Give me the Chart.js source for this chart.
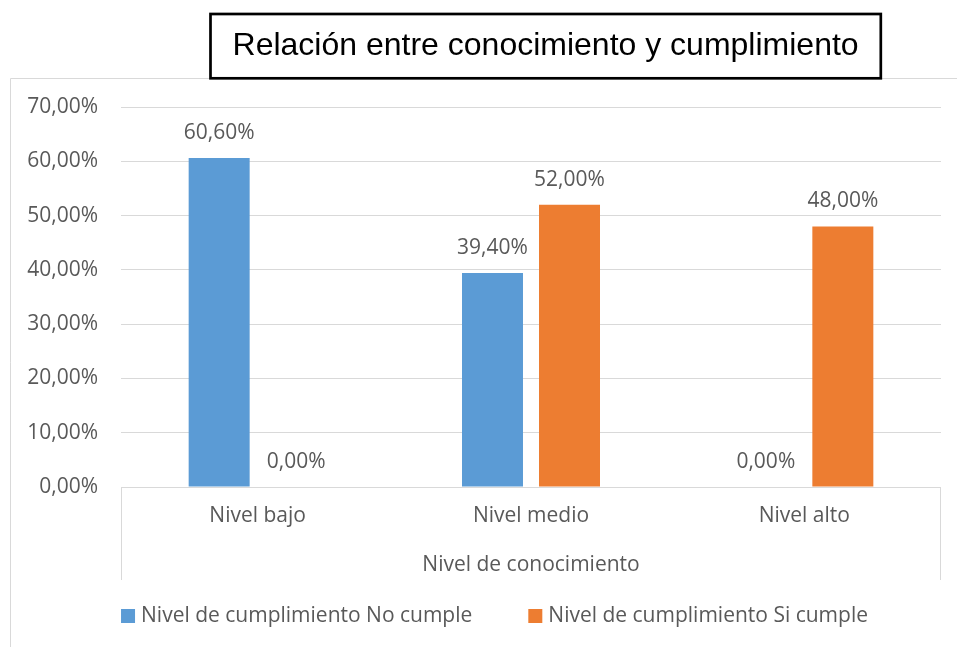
<!DOCTYPE html>
<html>
<head>
<meta charset="utf-8">
<script src="https://cdn.jsdelivr.net/npm/chart.js@4.4.1/dist/chart.umd.min.js"></script>
<style>
  html, body { margin: 0; padding: 0; background: #fff; }
  #wrap { width: 957px; height: 647px; position: relative; }
</style>
</head>
<body>
<div id="wrap"><canvas id="chart"></canvas></div>
<script>
const categories = ["Nivel bajo", "Nivel medio", "Nivel alto"]
const noCumple = [60.6, 39.4, 0]
const siCumple = [0, 52.0, 48.0]
const seriesNames = ["Nivel de cumplimiento No cumple", "Nivel de cumplimiento Si cumple"]
const axisTitle = "Nivel de conocimiento"
const chartTitle = "Relación entre conocimiento y cumplimiento"

const COLORS = { blue: "#5B9BD5", orange: "#ED7D31", grid: "#D9D9D9", text: "#595959" }
const FONT = "'Open Sans', 'Noto Sans', sans-serif"

function pct(v) {
  return v.toFixed(2).replace(".", ",") + "%"
}

// frame, title box, category bracket and legend drawn on the canvas
const decorations = {
  id: "decorations",
  beforeDraw(chart) {
    const ctx = chart.ctx
    ctx.save()
    ctx.strokeStyle = COLORS.grid
    ctx.lineWidth = 1
    ctx.beginPath()
    ctx.moveTo(10.5, chart.height)
    ctx.lineTo(10.5, 78.5)
    ctx.lineTo(chart.width, 78.5)
    ctx.stroke()
    ctx.restore()
  },
  afterDraw(chart) {
    const ctx = chart.ctx
    const area = chart.chartArea
    const xs = chart.scales.x
    ctx.save()
    // bracket around the category axis
    ctx.strokeStyle = COLORS.grid
    ctx.lineWidth = 1
    ctx.beginPath()
    ctx.moveTo(Math.round(area.left) + 0.5, area.bottom)
    ctx.lineTo(Math.round(area.left) + 0.5, xs.bottom)
    ctx.moveTo(Math.round(area.right) - 0.5, area.bottom)
    ctx.lineTo(Math.round(area.right) - 0.5, xs.bottom)
    ctx.stroke()

    // title box
    ctx.fillStyle = "#fff"
    ctx.fillRect(210.5, 14, 670.3, 64.3)
    ctx.strokeStyle = "#000"
    ctx.lineWidth = 2.7
    ctx.strokeRect(210.5, 14, 670.3, 64.3)
    ctx.fillStyle = "#000"
    ctx.font = "32px 'Liberation Sans', Arial, sans-serif"
    ctx.textAlign = "center"
    ctx.textBaseline = "alphabetic"
    ctx.fillText(chartTitle, 545.6, 54.5)

    // legend
    ctx.font = "21px " + FONT
    ctx.textBaseline = "middle"
    ctx.textAlign = "left"
    const box = 14, gapText = 6, gapItem = 56
    const items = chart.data.datasets.map((ds) => ({
      label: ds.label,
      color: ds.backgroundColor,
      w: box + gapText + ctx.measureText(ds.label).width,
    }))
    const total = items.reduce((s, it) => s + it.w, 0) + gapItem * (items.length - 1)
    let x = 494.5 - total / 2
    const y = 616
    items.forEach((it) => {
      ctx.fillStyle = it.color
      ctx.fillRect(x, y - box / 2, box, box)
      ctx.fillStyle = COLORS.text
      ctx.fillText(it.label, x + box + gapText, y)
      x += it.w + gapItem
    })
    ctx.restore()
  },
}

// value labels above each bar
const valueLabels = {
  id: "valueLabels",
  afterDatasetsDraw(chart) {
    const ctx = chart.ctx
    ctx.save()
    ctx.font = "21px " + FONT
    ctx.fillStyle = COLORS.text
    ctx.textAlign = "center"
    ctx.textBaseline = "middle"
    chart.data.datasets.forEach((ds, i) => {
      chart.getDatasetMeta(i).data.forEach((bar, j) => {
        ctx.fillText(pct(ds.data[j]), bar.x, bar.y - 25)
      })
    })
    ctx.restore()
  },
}

const data = {
  labels: categories,
  datasets: [
    { label: seriesNames[0], data: noCumple, backgroundColor: COLORS.blue },
    { label: seriesNames[1], data: siCumple, backgroundColor: COLORS.orange },
  ],
}

const config = {
  type: "bar",
  data: data,
  options: {
    responsive: true,
    maintainAspectRatio: false,
    animation: false,
    categoryPercentage: 0.5635,
    barPercentage: 0.792,
    layout: {
      padding: { left: 12, right: 16, top: 107, bottom: 67 },
    },
    scales: {
      x: {
        grid: { display: false, drawTicks: false },
        border: { display: false },
        ticks: { color: COLORS.text, font: { family: FONT, size: 21 }, padding: 16 },
        title: {
          display: true,
          text: axisTitle,
          color: COLORS.text,
          font: { family: FONT, size: 21 },
          padding: { top: 0, bottom: 2.4 },
        },
        afterFit: (scale) => { scale.height = 93 },
      },
      y: {
        min: 0,
        max: 70,
        ticks: {
          stepSize: 10,
          color: COLORS.text,
          font: { family: FONT, size: 21 },
          padding: 23,
          callback: (v) => pct(v),
        },
        grid: { color: COLORS.grid, drawTicks: false },
        border: { display: false },
        afterFit: (scale) => { scale.width = 109 },
      },
    },
    plugins: {
      legend: { display: false },
      tooltip: { enabled: false },
    },
  },
  plugins: [decorations, valueLabels],
}

var chart = new Chart(document.getElementById("chart"), config)
</script>
</body>
</html>
